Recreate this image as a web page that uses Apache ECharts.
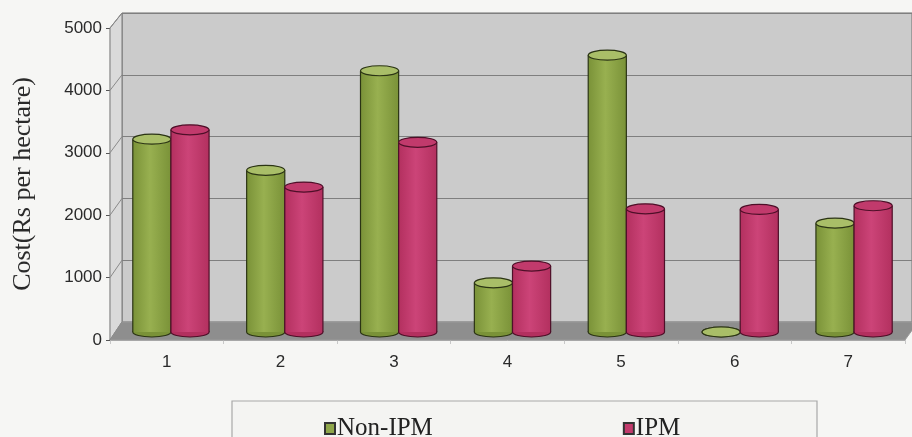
<!DOCTYPE html>
<html>
<head>
<meta charset="utf-8">
<script src="https://cdn.jsdelivr.net/npm/echarts@6/dist/echarts.min.js"></script>
<style>
  html, body { margin: 0; padding: 0; background: #f6f6f4; }
  #chart { width: 912px; height: 437px; }
</style>
</head>
<body>
<div id="chart"></div>
<script>
var categories = ["1", "2", "3", "4", "5", "6", "7"];
var nonIpm = [3100, 2600, 4200, 790, 4450, 0, 1750];
var ipm = [3250, 2330, 3050, 1060, 1980, 1970, 2030];
var yTicks = [0, 1000, 2000, 3000, 4000, 5000];

var chart = echarts.init(document.getElementById("chart"));

// cylinder drawing, side: -1 left bar, 1 right bar
const cylinder = (side, body, edge, top, line) => {
    return function(params, api) {
        var idx = api.value(0);
        var v = api.value(1);
        var p = api.coord([idx, v]);
        var b = api.coord([idx, 0]);
        var band = api.size([1, 0])[0];
        var w = band * 0.335;
        var cx = p[0] + side * w / 2;
        var rx = w / 2;
        var ry = 5;
        var grad = {
            type: "linear", x: 0, y: 0, x2: 1, y2: 0,
            colorStops: [
                { offset: 0, color: edge },
                { offset: 0.45, color: body },
                { offset: 1, color: edge }
            ]
        };
        var children = [
            {
                type: "ellipse",
                shape: { cx: cx, cy: b[1], rx: rx, ry: ry },
                style: { fill: edge, stroke: line, lineWidth: 1.2 }
            }
        ];
        if (b[1] - p[1] > 0.5) {
            children.push(
                {
                    type: "rect",
                    shape: { x: cx - rx, y: p[1], width: w, height: b[1] - p[1] },
                    style: { fill: grad }
                },
                {
                    type: "line",
                    shape: { x1: cx - rx, y1: p[1], x2: cx - rx, y2: b[1] },
                    style: { stroke: line, lineWidth: 1.2 }
                },
                {
                    type: "line",
                    shape: { x1: cx + rx, y1: p[1], x2: cx + rx, y2: b[1] },
                    style: { stroke: line, lineWidth: 1.2 }
                }
            );
        }
        children.push({
            type: "ellipse",
            shape: { cx: cx, cy: p[1], rx: rx, ry: ry },
            style: { fill: top, stroke: line, lineWidth: 1.2 }
        });
        return { type: "group", children: children };
    };
};

var option = {
    backgroundColor: "#f6f6f4",
    animation: false,
    grid: [
        // back wall
        { left: 122, right: -6, top: 13, bottom: 115, show: true,
          backgroundColor: "#cbcbcb", borderColor: "#6f6f6f", borderWidth: 1 },
        // front axes
        { left: 110, right: 7, top: 28, bottom: 97 },
        // bars, mid depth
        { left: 114, right: 1, top: 21, bottom: 105 }
    ],
    xAxis: [
        { type: "category", gridIndex: 0, data: categories, show: false },
        {
            type: "category", gridIndex: 1, data: categories,
            axisLine: { show: true, lineStyle: { color: "#b5b5b5" } },
            axisTick: { show: true, length: 4, lineStyle: { color: "#c8c8c8" } },
            axisLabel: { margin: 14, fontSize: 17, color: "#2a2a2a",
                         fontFamily: "Liberation Sans" }
        },
        { type: "category", gridIndex: 2, data: categories, show: false }
    ],
    yAxis: [
        {
            type: "value", gridIndex: 0, min: 0, max: 5000, interval: 1000,
            axisLine: { show: false }, axisTick: { show: false },
            axisLabel: { show: false },
            splitLine: { show: true, lineStyle: { color: "#7f7f7f", width: 1 } }
        },
        {
            type: "value", gridIndex: 1, min: 0, max: 5000, interval: 1000,
            name: "Cost(Rs per hectare)",
            nameLocation: "middle",
            nameGap: 74,
            nameRotate: 90,
            nameTextStyle: { fontSize: 26, color: "#2a2a2a",
                             fontFamily: "Liberation Serif" },
            axisLine: { show: true, lineStyle: { color: "#555", width: 1.2 } },
            axisTick: { show: true, length: 4, lineStyle: { color: "#555" } },
            axisLabel: { margin: 8, fontSize: 17, color: "#2a2a2a",
                         fontFamily: "Liberation Sans",
                         formatter: v => String(v) },
            splitLine: { show: false }
        },
        { type: "value", gridIndex: 2, min: 0, max: 5000, show: false }
    ],
    legend: {
        data: ["Non-IPM", "IPM"],
        left: 319,
        top: 411,
        icon: "rect",
        itemWidth: 10,
        itemHeight: 11,
        itemGap: 190,
        textStyle: { fontSize: 25, color: "#222", fontFamily: "Liberation Serif",
                     padding: [0, 0, 0, -3] }
    },
    series: [
        {
            name: "Non-IPM",
            type: "custom",
            xAxisIndex: 2, yAxisIndex: 2,
            z: 5,
            itemStyle: { color: "#8fa64a", borderColor: "#333", borderWidth: 1 },
            renderItem: cylinder(-1, "#98b050", "#7a9238", "#a9be68", "#2b3414"),
            data: nonIpm.map((v, i) => [i, v])
        },
        {
            name: "IPM",
            type: "custom",
            xAxisIndex: 2, yAxisIndex: 2,
            z: 5,
            itemStyle: { color: "#c23a6c", borderColor: "#333", borderWidth: 1 },
            renderItem: cylinder(1, "#cc4478", "#b3305f", "#c13a6c", "#4e0f28"),
            data: ipm.map((v, i) => [i, v])
        }
    ]
};

chart.setOption(option);

// 3d frame: side wall, floor, legend box
var sideLines = yTicks.map(t => {
    var f = chart.convertToPixel({ gridIndex: 1 }, [0, t]);
    var k = chart.convertToPixel({ gridIndex: 0 }, [0, t]);
    return {
        type: "line", z: 2,
        shape: { x1: 110, y1: f[1], x2: 122, y2: k[1] },
        style: { stroke: "#8a8a8a", lineWidth: 1 }
    };
});

chart.setOption({
    graphic: [
        {
            type: "polygon", z: 1,
            shape: { points: [[110, 340], [110, 28], [122, 13], [122, 322]] },
            style: { fill: "#dadada", stroke: "#7a7a7a", lineWidth: 1 }
        },
        {
            type: "polygon", z: 1,
            shape: { points: [[110, 340], [122, 322], [918, 322], [905, 340]] },
            style: { fill: "#8e8e8e", stroke: "#9a9a9a", lineWidth: 1 }
        }
    ].concat(sideLines).concat([
        {
            type: "rect", z: 0,
            shape: { x: 232, y: 401, width: 585, height: 50 },
            style: { fill: "#f4f4f2", stroke: "#a8a8a8", lineWidth: 1.2 }
        }
    ])
});
</script>
</body>
</html>
